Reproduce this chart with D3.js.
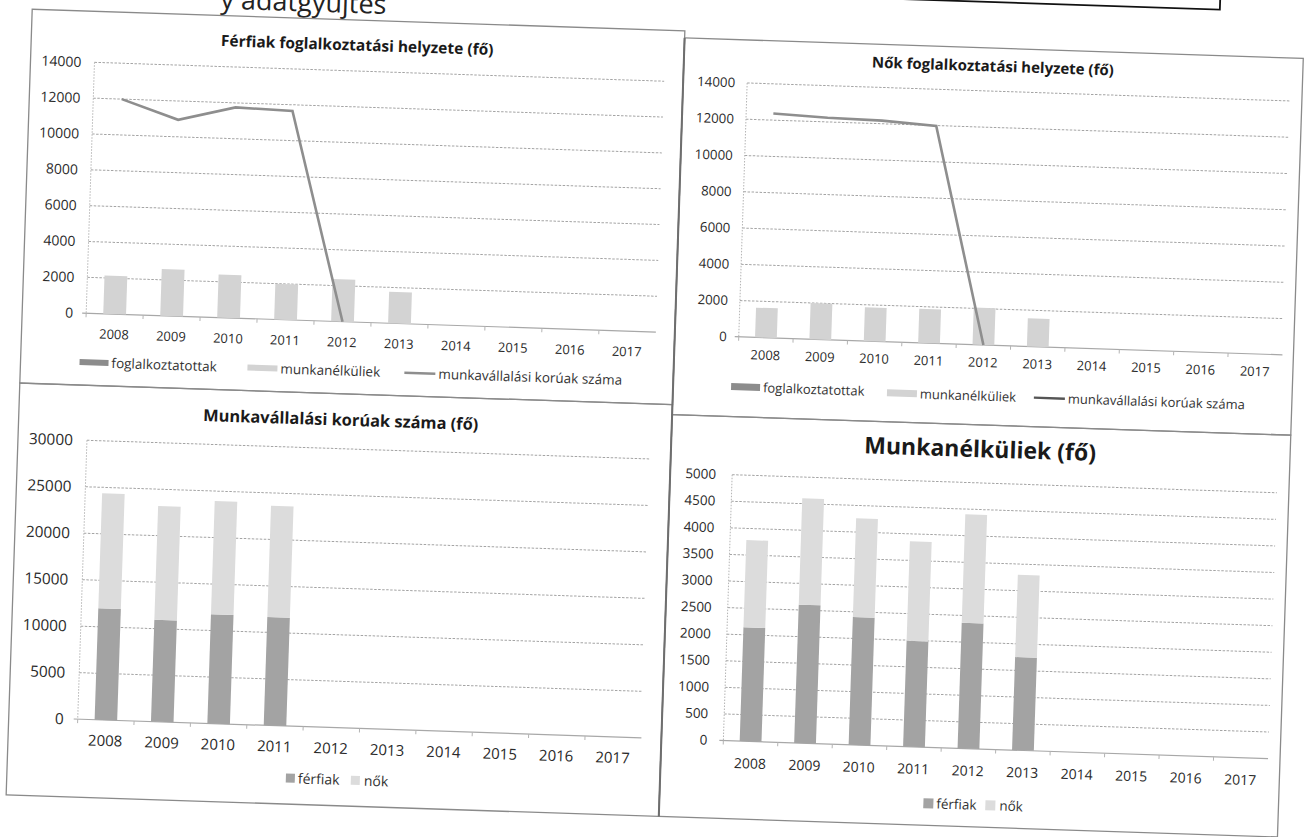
<!DOCTYPE html>
<html>
<head>
<meta charset="utf-8">
<script src="https://cdn.jsdelivr.net/npm/d3@7"></script>
<style>
  body { margin: 0; background: #fff; }
  svg { display: block; }
  text { font-family: "Open Sans", "Noto Sans", sans-serif; }
</style>
</head>
<body>
<svg id="page" width="1304" height="837"></svg>
<script>
// ---- data ----
var years = ['2008', '2009', '2010', '2011', '2012', '2013', '2014', '2015', '2016', '2017'];

// munkavállalási korúak száma (line in the top charts, stacks in bottom-left)
var ferfiKoru = [12000, 10950, 11750, 11650, 0];
var noKoru = [12370, 12230, 12170, 11980, 0];

// munkanélküliek (bars in the top charts, stacks in bottom-right)
var ferfiMunkanelkuli = [2140, 2600, 2400, 1990, 2360, 1750];
var noMunkanelkuli = [1640, 2000, 1860, 1870, 2040, 1550];

// foglalkoztatottak: no values were filled in
var ferfiFoglalkoztatott = [];
var noFoglalkoztatott = [];

var ticksHelyzet = [0, 2000, 4000, 6000, 8000, 10000, 12000, 14000];
var ticksKoru = [0, 5000, 10000, 15000, 20000, 25000, 30000];
var ticksMunkanelkuli = [0, 500, 1000, 1500, 2000, 2500, 3000, 3500, 4000, 4500, 5000];

var cDark = '#8c8c8c', cLight = '#d3d3d3', cLine = '#8e8e8e';
var cFerfi = '#a3a3a3', cNo = '#dcdcdc';

var svg = d3.select('#page');
svg.append('rect').attr('width', 1304).attr('height', 837).attr('fill', '#fff');

// the page was scanned slightly skewed
var page = svg.append('g').attr('transform', 'rotate(1.9,652,418)');

// bits of the page around the charts
page.append('text')
    .attr('x', 207).attr('y', 23)
    .attr('font-size', 27)
    .attr('fill', '#222')
    .text('y adatgyűjtés');
page.append('rect')
    .attr('x', 600).attr('y', -80).attr('width', 606).attr('height', 71)
    .attr('fill', 'none').attr('stroke', '#111').attr('stroke-width', 1.8);

// panel frames
var frames = [
    [19, 30, 653, 374],
    [672, 37, 619, 377],
    [19, 404, 653, 412],
    [672, 414, 619, 402]
];
page.selectAll('rect.frame')
    .data(frames)
    .enter()
    .append('rect')
    .attr('class', 'frame')
    .attr('x', function (d) { return d[0]; })
    .attr('y', function (d) { return d[1]; })
    .attr('width', function (d) { return d[2]; })
    .attr('height', function (d) { return d[3]; })
    .attr('fill', 'none')
    .attr('stroke', '#8a8a8a')
    .attr('stroke-width', 1.3);
page.append('line')
    .attr('x1', 672).attr('x2', 672).attr('y1', 37).attr('y2', 816)
    .attr('stroke', '#6e6e6e').attr('stroke-width', 2);

function drawChart(o) {
    var g = page.append('g');

    var x = d3.scaleBand()
        .domain(years)
        .range([o.left, o.left + o.width])
        .paddingInner(0.6)
        .paddingOuter(0.3);
    var y = d3.scaleLinear()
        .domain([0, d3.max(o.ticks)])
        .range([o.bottom, o.top]);

    // gridlines
    g.selectAll('line.grid')
        .data(o.ticks.slice(1))
        .enter()
        .append('line')
        .attr('x1', o.left)
        .attr('x2', o.left + o.width)
        .attr('y1', function (d) { return y(d); })
        .attr('y2', function (d) { return y(d); })
        .attr('stroke', '#a4a4a4')
        .attr('stroke-width', 1)
        .attr('stroke-dasharray', '2.5,1.5');

    // axes
    g.append('line')
        .attr('x1', o.left).attr('x2', o.left)
        .attr('y1', o.top).attr('y2', o.bottom)
        .attr('stroke', '#b4b4b4').attr('stroke-dasharray', '1.5,1.5');
    g.append('line')
        .attr('x1', o.left - 4).attr('x2', o.left + o.width)
        .attr('y1', o.bottom).attr('y2', o.bottom)
        .attr('stroke', '#a8a8a8').attr('stroke-width', 1.2);
    g.selectAll('line.xtick')
        .data(years)
        .enter()
        .append('line')
        .attr('x1', function (d) { return x(d) - x.step() * 0.3; })
        .attr('x2', function (d) { return x(d) - x.step() * 0.3; })
        .attr('y1', o.bottom)
        .attr('y2', o.bottom + 4)
        .attr('stroke', '#b4b4b4');

    // tick labels
    g.selectAll('text.ylab')
        .data(o.ticks)
        .enter()
        .append('text')
        .attr('x', o.left - o.labelGap)
        .attr('y', function (d) { return y(d) + o.labelSize * 0.36; })
        .attr('text-anchor', 'end')
        .attr('font-size', o.labelSize)
        .attr('fill', '#2a2a2a')
        .text(function (d) { return d; });
    g.selectAll('text.xlab')
        .data(years)
        .enter()
        .append('text')
        .attr('x', function (d) { return x(d) + x.bandwidth() / 2; })
        .attr('y', o.bottom + o.xLabelDy)
        .attr('text-anchor', 'middle')
        .attr('font-size', o.xLabelSize)
        .attr('fill', '#2a2a2a')
        .text(function (d) { return d; });

    // stacked columns
    var rows = years.map(function (yr, i) {
        var r = {year: yr};
        o.series.forEach(function (s) { r[s.name] = s.values[i] || 0; });
        return r;
    });
    var layers = d3.stack().keys(o.series.map(function (s) { return s.name; }))(rows);
    g.selectAll('g.layer')
        .data(layers)
        .enter()
        .append('g')
        .attr('fill', function (d, i) { return o.series[i].color; })
        .selectAll('rect')
        .data(function (d) { return d; })
        .enter()
        .append('rect')
        .attr('x', function (d) { return x(d.data.year); })
        .attr('width', x.bandwidth())
        .attr('y', function (d) { return y(d[1]); })
        .attr('height', function (d) { return y(d[0]) - y(d[1]); });

    // line series
    if (o.line) {
        var pts = o.line.values.map(function (v, i) { return [years[i], v]; });
        g.append('path')
            .datum(pts)
            .attr('fill', 'none')
            .attr('stroke', o.line.color)
            .attr('stroke-width', 2.6)
            .attr('d', d3.line()
                .x(function (d) { return x(d[0]) + x.bandwidth() / 2; })
                .y(function (d) { return y(d[1]); }));
    }

    // title
    g.append('text')
        .attr('x', o.titleX)
        .attr('y', o.titleY + o.titleSize * 0.36)
        .attr('text-anchor', 'middle')
        .attr('font-size', o.titleSize)
        .attr('font-weight', 'bold')
        .attr('fill', '#1a1a1a')
        .text(o.title);

    // legend
    o.legend.forEach(function (it) {
        if (it.kind === 'line') {
            g.append('line')
                .attr('x1', it.x).attr('x2', it.x + it.w)
                .attr('y1', it.y).attr('y2', it.y)
                .attr('stroke', it.color).attr('stroke-width', 2.4);
        } else {
            g.append('rect')
                .attr('x', it.x).attr('y', it.y - it.h / 2)
                .attr('width', it.w).attr('height', it.h)
                .attr('fill', it.color);
        }
        g.append('text')
            .attr('x', it.x + it.w + it.gap)
            .attr('y', it.y + o.legendSize * 0.36)
            .attr('font-size', o.legendSize)
            .attr('fill', '#333')
            .text(it.label);
    });
}

drawChart({
    left: 83, width: 570, top: 81, bottom: 332,
    ticks: ticksHelyzet, labelSize: 14, xLabelSize: 13, labelGap: 13, xLabelDy: 25,
    series: [
        {name: 'foglalkoztatottak', values: ferfiFoglalkoztatott, color: cDark},
        {name: 'munkanélküliek', values: ferfiMunkanelkuli, color: cLight}
    ],
    line: {values: ferfiKoru, color: cLine},
    title: 'Férfiak foglalkoztatási helyzete (fő)', titleX: 345, titleY: 55, titleSize: 15.5,
    legendSize: 13.5,
    legend: [
        {kind: 'rect', label: 'foglalkoztatottak', color: cDark, x: 78, y: 381, w: 29, h: 6, gap: 3},
        {kind: 'rect', label: 'munkanélküliek', color: cLight, x: 246, y: 381, w: 30, h: 6, gap: 3},
        {kind: 'line', label: 'munkavállalási korúak száma', color: cLine, x: 403, y: 381, w: 31, h: 0, gap: 3}
    ]
});

drawChart({
    left: 736, width: 544, top: 80, bottom: 334,
    ticks: ticksHelyzet, labelSize: 13.3, xLabelSize: 13, labelGap: 12, xLabelDy: 22,
    series: [
        {name: 'foglalkoztatottak', values: noFoglalkoztatott, color: cDark},
        {name: 'munkanélküliek', values: noMunkanelkuli, color: cLight}
    ],
    line: {values: noKoru, color: cLine},
    title: 'Nők foglalkoztatási helyzete (fő)', titleX: 981, titleY: 55, titleSize: 15,
    legendSize: 13,
    legend: [
        {kind: 'rect', label: 'foglalkoztatottak', color: cDark, x: 730, y: 384, w: 29, h: 7, gap: 3},
        {kind: 'rect', label: 'munkanélküliek', color: cLight, x: 886, y: 385, w: 30, h: 7, gap: 3},
        {kind: 'line', label: 'munkavállalási korúak száma', color: '#555', x: 1033, y: 385, w: 31, h: 0, gap: 3}
    ]
});

drawChart({
    left: 88, width: 564, top: 459, bottom: 738,
    ticks: ticksKoru, labelSize: 15.4, xLabelSize: 15, labelGap: 14, xLabelDy: 26,
    series: [
        {name: 'férfiak', values: ferfiKoru, color: cFerfi},
        {name: 'nők', values: noKoru, color: cNo}
    ],
    title: 'Munkavállalási korúak száma (fő)', titleX: 341, titleY: 430, titleSize: 16.4,
    legendSize: 14,
    legend: [
        {kind: 'rect', label: 'férfiak', color: cFerfi, x: 298, y: 790, w: 9, h: 9, gap: 3},
        {kind: 'rect', label: 'nők', color: cNo, x: 363, y: 790, w: 9, h: 9, gap: 4}
    ]
});

drawChart({
    left: 734, width: 545, top: 472, bottom: 738,
    ticks: ticksMunkanelkuli, labelSize: 13.5, xLabelSize: 14, labelGap: 16, xLabelDy: 27,
    series: [
        {name: 'férfiak', values: ferfiMunkanelkuli, color: cFerfi},
        {name: 'nők', values: noMunkanelkuli, color: cNo}
    ],
    title: 'Munkanélküliek (fő)', titleX: 981, titleY: 438, titleSize: 23,
    legendSize: 13.5,
    legend: [
        {kind: 'rect', label: 'férfiak', color: cFerfi, x: 936, y: 794, w: 10, h: 10, gap: 3},
        {kind: 'rect', label: 'nők', color: cNo, x: 998, y: 794, w: 10, h: 10, gap: 4}
    ]
});
</script>
</body>
</html>
